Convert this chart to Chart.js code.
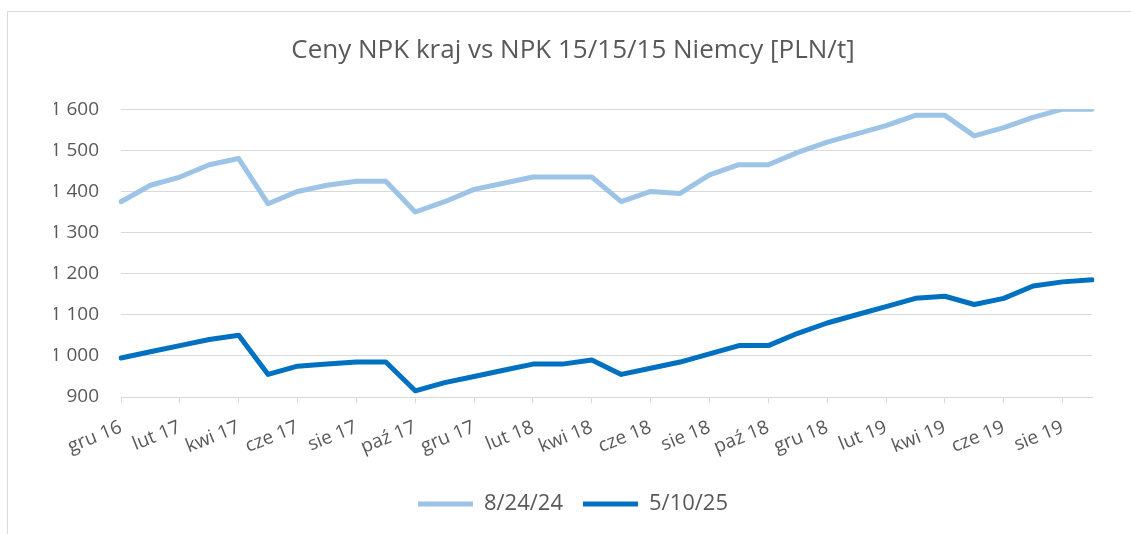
<!DOCTYPE html>
<html>
<head>
<meta charset="utf-8">
<script src="https://cdn.jsdelivr.net/npm/chart.js@4/dist/chart.umd.min.js"></script>
<style>
  html, body { margin: 0; padding: 0; background: #ffffff; overflow: hidden; }
  #wrap { position: relative; width: 1131px; height: 534px; }
</style>
</head>
<body>
<div id="wrap"><canvas id="npkChart" width="1131" height="534"></canvas></div>
<script>
// Monthly categories, gru 16 .. wrz 19
const MONTHS = [
    'gru 16', 'sty 17', 'lut 17', 'mar 17', 'kwi 17', 'maj 17', 'cze 17', 'lip 17',
    'sie 17', 'wrz 17', 'paź 17', 'lis 17', 'gru 17', 'sty 18', 'lut 18', 'mar 18',
    'kwi 18', 'maj 18', 'cze 18', 'lip 18', 'sie 18', 'wrz 18', 'paź 18', 'lis 18',
    'gru 18', 'sty 19', 'lut 19', 'mar 19', 'kwi 19', 'maj 19', 'cze 19', 'lip 19',
    'sie 19', 'wrz 19'
];

// Series "8/24/24" (light blue)
const SERIES_A = [
    1375, 1415, 1435, 1465, 1480, 1370, 1400, 1415,
    1425, 1425, 1350, 1375, 1405, 1420, 1435, 1435,
    1435, 1375, 1400, 1395, 1440, 1465, 1465, 1495,
    1520, 1540, 1560, 1585, 1585, 1535, 1555, 1580,
    1600, 1600
];

// Series "5/10/25" (dark blue)
const SERIES_B = [
    995, 1010, 1025, 1040, 1050, 955, 975, 980,
    985, 985, 915, 935, 950, 965, 980, 980,
    990, 955, 970, 985, 1005, 1025, 1025, 1055,
    1080, 1100, 1120, 1140, 1145, 1125, 1140, 1170,
    1180, 1185
];

const SERIES_NAMES = ['8/24/24', '5/10/25'];
const Y_MIN = 900;
const Y_MAX = 1600;
const Y_STEP = 100;

const TEXT_COLOR = '#595959';
const GRID_COLOR = '#d9d9d9';
const FONT = "'Open Sans', sans-serif";

// thin frame like the Excel chart border (cropped at right/bottom)
const framePlugin = {
    id: 'frame',
    beforeDraw(chart) {
        const c = chart.ctx;
        c.save();
        c.strokeStyle = GRID_COLOR;
        c.lineWidth = 1;
        c.strokeRect(7.5, 11.5, 1300, 700);
        c.restore();
    }
};

function formatThousands(v) {
    return String(v).replace(/\B(?=(\d{3})+(?!\d))/g, ' ');
}

new Chart(document.getElementById('npkChart'), {
    type: 'line',
    data: {
        labels: MONTHS,
        datasets: [
            {
                label: SERIES_NAMES[0],
                data: SERIES_A,
                borderColor: '#9dc3e6',
                backgroundColor: '#9dc3e6',
                borderWidth: 5,
                borderCapStyle: 'round',
                borderJoinStyle: 'round',
                pointRadius: 0,
                tension: 0
            },
            {
                label: SERIES_NAMES[1],
                data: SERIES_B,
                borderColor: '#0070c0',
                backgroundColor: '#0070c0',
                borderWidth: 5,
                borderCapStyle: 'round',
                borderJoinStyle: 'round',
                pointRadius: 0,
                tension: 0
            }
        ]
    },
    options: {
        responsive: false,
        animation: false,
        layout: {
            padding: { left: 54, right: 39, top: 0, bottom: 9 }
        },
        plugins: {
            title: {
                display: true,
                text: 'Ceny NPK kraj vs NPK 15/15/15 Niemcy [PLN/t]',
                color: TEXT_COLOR,
                font: { family: FONT, size: 26, weight: 'normal' },
                padding: { top: 35, bottom: 43 }
            },
            legend: {
                position: 'bottom',
                labels: {
                    color: TEXT_COLOR,
                    font: { family: FONT, size: 22 },
                    usePointStyle: true,
                    pointStyle: 'line',
                    pointStyleWidth: 55,
                    padding: 20
                }
            },
            tooltip: { enabled: false }
        },
        scales: {
            x: {
                afterFit(scale) { scale.height = 76; },
                border: { color: GRID_COLOR },
                grid: {
                    drawOnChartArea: false,
                    drawTicks: true,
                    tickLength: 6,
                    color: (ctx) => (ctx.index % 2 === 0 ? GRID_COLOR : 'rgba(0,0,0,0)')
                },
                ticks: {
                    autoSkip: false,
                    minRotation: 22,
                    maxRotation: 22,
                    padding: 13,
                    color: TEXT_COLOR,
                    font: { family: FONT, size: 19 },
                    callback: function (value, index) {
                        return index % 2 === 0 ? this.getLabelForValue(value) : '';
                    }
                }
            },
            y: {
                min: Y_MIN,
                max: Y_MAX,
                afterFit(scale) { scale.width = 67; },
                border: { display: false },
                grid: {
                    color: GRID_COLOR,
                    lineWidth: 1,
                    drawTicks: false
                },
                ticks: {
                    stepSize: Y_STEP,
                    padding: 22,
                    color: TEXT_COLOR,
                    font: { family: FONT, size: 19 },
                    callback: (v) => formatThousands(v)
                }
            }
        }
    },
    plugins: [framePlugin]
});
</script>
</body>
</html>
